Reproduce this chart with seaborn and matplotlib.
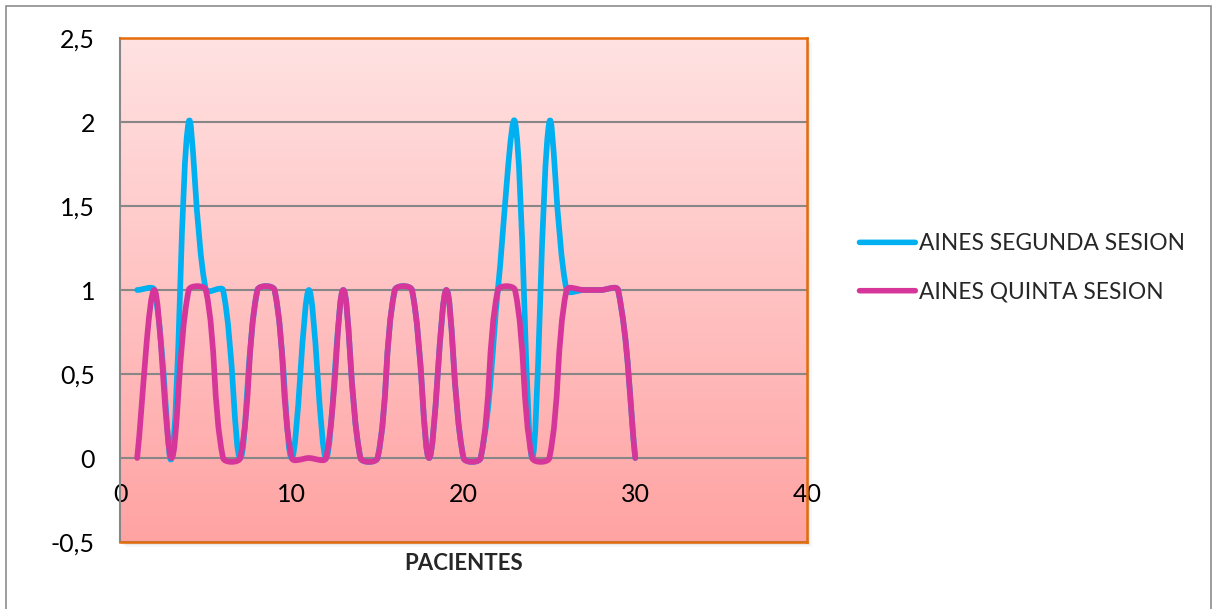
import numpy as np
import pandas as pd
import matplotlib
matplotlib.use("Agg")
import matplotlib.pyplot as plt
import seaborn as sns
from matplotlib.patheffects import AbstractPathEffect
from matplotlib.path import Path
from matplotlib.transforms import IdentityTransform
from matplotlib.patches import Rectangle
from matplotlib.ticker import FuncFormatter, MultipleLocator

# ── Data ───────────────────────────────────────────────────────────────────────
pacientes = list(range(1, 31))
segunda   = [1, 1, 0, 2, 1, 1, 0, 1, 1, 0, 1, 0, 1, 0, 0,
             1, 1, 0, 1, 0, 0, 1, 2, 0, 2, 1, 1, 1, 1, 0]
quinta    = [0, 1, 0, 1, 1, 0, 0, 1, 1, 0, 0, 0, 1, 0, 0,
             1, 1, 0, 1, 0, 0, 1, 1, 0, 0, 1, 1, 1, 1, 0]
series_names = ["AINES SEGUNDA SESION", "AINES QUINTA SESION"]
series_colors = ["#00B0F0", "#D6369A"]


# ── Smooth line rendering (bezier with length-weighted tangents, spreadsheet style)
class SmoothLine(AbstractPathEffect):
    def draw_path(self, renderer, gc, tpath, affine, rgbFace=None):
        pts = affine.transform(tpath.vertices)
        if len(pts) < 3:
            renderer.draw_path(gc, tpath, affine, rgbFace)
            return
        p = np.vstack([pts[0], pts, pts[-1]])
        verts, codes = [pts[0]], [Path.MOVETO]
        for i in range(1, len(p) - 2):
            p0, p1, p2, p3 = p[i - 1], p[i], p[i + 1], p[i + 2]
            d01 = np.hypot(*(p1 - p0))
            d12 = np.hypot(*(p2 - p1))
            d23 = np.hypot(*(p3 - p2))
            c1 = p1 + (p2 - p0) * d12 / max(d01 + d12, 1e-9) / 3
            c2 = p2 - (p3 - p1) * d12 / max(d12 + d23, 1e-9) / 3
            verts += [c1, c2, p2]
            codes += [Path.CURVE4] * 3
        renderer.draw_path(gc, Path(np.array(verts), codes), IdentityTransform(), rgbFace)


df = pd.concat([
    pd.DataFrame({"Paciente": pacientes, "Valor": segunda, "Serie": series_names[0]}),
    pd.DataFrame({"Paciente": pacientes, "Valor": quinta, "Serie": series_names[1]}),
])

sns.set_style("white")
plt.rcParams["font.family"] = ["Lato", "DejaVu Sans"]

fig = plt.figure(figsize=(12.13, 6.09), dpi=100)
ax = fig.add_axes([120 / 1213, 1 - 542 / 609, 687 / 1213, 504 / 609])
ax.set_zorder(2)

# outer chart border
fig.patches.append(Rectangle((6 / 1213, -0.02), 1205 / 1213, 1 - 6 / 609 + 0.02,
                             transform=fig.transFigure, fill=False,
                             edgecolor="#8C8C8C", linewidth=1.2, zorder=0))
# soft shadow behind plot area
for k, a in enumerate([0.10, 0.06, 0.03]):
    off = (k + 1) * 1.5
    fig.patches.append(Rectangle(((120 + off) / 1213, 1 - (542 + off) / 609),
                                 687 / 1213, 504 / 609, transform=fig.transFigure,
                                 facecolor="black", alpha=a, edgecolor="none", zorder=0))

# gradient background
grad = np.linspace(0, 1, 256)[:, None]
top = np.array(matplotlib.colors.to_rgb("#FFE2E2"))
bot = np.array(matplotlib.colors.to_rgb("#FFA3A3"))
img = top[None, None, :] * (1 - grad[..., None]) + bot[None, None, :] * grad[..., None]
ax.imshow(img, extent=(0, 1, 0, 1), transform=ax.transAxes, aspect="auto", zorder=0)

sns.lineplot(data=df, x="Paciente", y="Valor", hue="Serie", hue_order=series_names,
             palette=dict(zip(series_names, series_colors)), linewidth=4.1,
             ax=ax, zorder=3, legend=True)
for line in ax.get_lines():
    line.set_path_effects([SmoothLine()])
    line.set_solid_capstyle("round")
    line.set_solid_joinstyle("round")

ax.set_xlim(0, 40)
ax.set_ylim(-0.5, 2.5)
ax.xaxis.set_major_locator(MultipleLocator(10))
ax.yaxis.set_major_locator(MultipleLocator(0.5))
ax.yaxis.set_major_formatter(FuncFormatter(lambda v, _: f"{v:g}".replace(".", ",")))
ax.grid(axis="y", color="#878787", linewidth=1.5, zorder=1)
ax.grid(axis="x", visible=False)
ax.set_axisbelow(True)

for side in ["top", "right", "bottom"]:
    ax.spines[side].set_color("#E46C0A")
    ax.spines[side].set_linewidth(1.8)
ax.spines["left"].set_color("#878787")
ax.spines["left"].set_linewidth(1.5)

ax.tick_params(axis="y", length=0, pad=18, labelsize=18, colors="black")
ax.tick_params(axis="x", length=0, pad=-42.5, labelsize=18, colors="black")
ax.set_xlabel("PACIENTES", fontsize=16, fontweight="bold", labelpad=8)
ax.set_ylabel("")

handles, labels = ax.get_legend_handles_labels()
for h in handles:
    h.set_linewidth(4)
    h.set_solid_capstyle("round")
ax.legend(handles, labels, loc="center left", bbox_to_anchor=(839 / 1213, 1 - 268 / 609),
          bbox_transform=fig.transFigure, frameon=False, fontsize=16.4,
          handlelength=2.45, handletextpad=0.15, labelspacing=1.2)

fig.savefig("out.png", dpi=100)
